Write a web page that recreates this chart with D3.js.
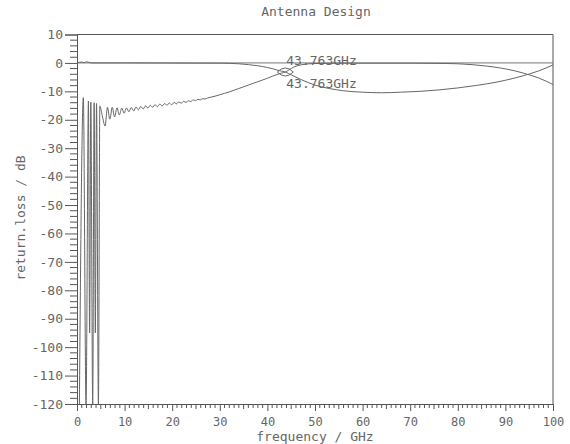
<!DOCTYPE html>
<html>
<head>
<meta charset="utf-8">
<script src="https://cdn.jsdelivr.net/npm/d3@7"></script>
<style>
  html, body { margin: 0; padding: 0; background: #fff; }
  svg text { font-family: "DejaVu Sans Mono", "Liberation Mono", monospace; fill: #666; }
</style>
</head>
<body>
<svg id="chart" width="570" height="444"></svg>
<script>
// Return loss of the antenna, port trace that resonates at low frequency (GHz, dB)
const freqA = [0.5, 1.33, 1.9, 2.4, 2.65, 2.9, 3.3, 3.6, 3.85, 4.1, 4.5, 4.8, 5.3, 5.9,
  6.4, 6.9, 7.4, 7.9, 8.4, 8.9, 9.4, 9.9, 10.4, 10.9, 11.4, 11.9, 12.4, 12.9, 13.4, 13.9, 14.4, 14.9,
  15.4, 15.9, 16.4, 16.9, 17.4, 17.9, 18.4, 18.9, 19.4, 19.9, 20.4, 20.9, 21.4, 21.9, 22.4, 22.9,
  23.4, 23.9, 24.4, 24.9, 25.4, 25.9, 26.4, 26.9, 27.4, 28, 29, 30, 31, 32, 33, 34, 35, 36, 37, 38,
  39, 40, 41, 42, 43, 43.763, 44.5, 45.5, 47, 50, 55, 60, 65, 70, 75, 80, 83, 86, 89, 92, 95, 97, 100];
const lossA = [-120, -12.2, -120, -13.4, -95, -13.8, -120, -14.0, -95, -14.3, -120, -15.2, -18.5, -22.2,
  -15.6, -19.8, -15.6, -19.0, -15.8, -18.3, -15.9, -17.7, -15.8, -17.2, -15.7, -16.9, -15.5, -16.5, -15.3, -16.2, -15.1, -15.9,
  -14.9, -15.6, -14.7, -15.4, -14.5, -15.1, -14.3, -14.9, -14.1, -14.7, -13.9, -14.4, -13.7, -14.2, -13.5, -13.9,
  -13.3, -13.6, -13.0, -13.3, -12.8, -13.0, -12.6, -12.7, -12.35, -12.1, -11.7, -11.2, -10.7, -10.2, -9.6, -9.0, -8.4, -7.8, -7.2, -6.6,
  -6.0, -5.4, -4.7, -4.1, -3.55, -3.2, -2.5, -1.5, -0.7, -0.2, -0.1, -0.1, -0.1, -0.1, -0.15, -0.3, -0.6, -1.1, -1.8, -2.8, -4.2, -5.3, -7.6];

// Transmission trace: flat near 0 dB, notch past the crossover
const freqB = [0, 1, 1.5, 2, 3, 4, 10, 20, 30, 34, 36, 38, 40, 41, 42, 43, 43.763, 45, 47, 50, 53, 56, 60,
  64, 68, 72, 76, 80, 84, 88, 92, 95, 97, 100];
const lossB = [0, 0.3, 0.1, 0.4, 0, 0, 0, -0.05, -0.1, -0.3, -0.6, -1.0, -1.6, -2.0, -2.5, -2.9, -3.2, -4.2, -5.8, -7.8, -9.0, -9.8, -10.3,
  -10.5, -10.3, -10.0, -9.5, -8.8, -7.9, -6.8, -5.3, -3.9, -2.8, -0.7];

// Marker readouts at the crossover frequency (both traces read the same level there)
const markerFreq = 43.763;
const markerLoss = -3.2;
const markerLabels = ["43.763GHz", "43.763GHz"];

const xTicks = [0, 10, 20, 30, 40, 50, 60, 70, 80, 90, 100];
const yTicks = [10, 0, -10, -20, -30, -40, -50, -60, -70, -80, -90, -100, -110, -120];

const svg = d3.select("#chart");
const padL = 77, padR = 553, padT = 34.5, padB = 404;
const ink = "#555";

const x = d3.scaleLinear().domain([0, 100]).range([padL, padR]);
const y = d3.scaleLinear().domain([-120, 10]).range([padB, padT]);

svg.append("defs").append("clipPath").attr("id", "plotClip")
  .append("rect").attr("x", padL).attr("y", padT).attr("width", padR - padL).attr("height", padB - padT);

// Title
svg.append("text").attr("x", 316).attr("y", 16).attr("text-anchor", "middle")
  .attr("font-size", 13).text("Antenna Design");

// Frame: top and right borders
svg.append("line").attr("x1", padL).attr("x2", padR).attr("y1", padT).attr("y2", padT)
  .attr("stroke", ink).attr("stroke-width", 1);
svg.append("line").attr("x1", padR).attr("x2", padR).attr("y1", padT).attr("y2", padB)
  .attr("stroke", ink).attr("stroke-width", 1);

// Zero dB reference
svg.append("line").attr("x1", padL).attr("x2", padR).attr("y1", y(0)).attr("y2", y(0))
  .attr("stroke", "#777").attr("stroke-width", 1);

// Y axis: majors every 10 dB, minors every 2 dB
const yAxis = d3.axisLeft(y).tickValues(yTicks).tickSize(12).tickPadding(2)
  .tickFormat(d => String(d));
const gy = svg.append("g").attr("transform", `translate(${padL},0)`).call(yAxis);
gy.selectAll("line").attr("stroke", ink);
gy.select(".domain").attr("stroke", ink);
gy.selectAll("text").attr("font-size", 13).attr("font-family", "DejaVu Sans Mono").attr("fill", "#666");
const yMinor = d3.range(-120, 11, 2).filter(v => v % 10 !== 0);
svg.append("g").selectAll("line").data(yMinor).join("line")
  .attr("x1", padL - 7).attr("x2", padL).attr("y1", d => y(d)).attr("y2", d => y(d))
  .attr("stroke", ink);

// X axis: majors every 10 GHz, minors every 1 GHz
const xAxis = d3.axisBottom(x).tickValues(xTicks).tickSize(7).tickPadding(0);
const gx = svg.append("g").attr("transform", `translate(0,${padB})`).call(xAxis);
gx.selectAll("line").attr("stroke", ink);
gx.select(".domain").attr("stroke", ink);
gx.selectAll("text").attr("font-size", 12).attr("font-family", "DejaVu Sans Mono").attr("fill", "#666")
  .attr("dy", null).attr("y", 22);
const xMinor = d3.range(0, 101, 1).filter(v => v % 10 !== 0);
svg.append("g").selectAll("line").data(xMinor).join("line")
  .attr("x1", d => x(d)).attr("x2", d => x(d)).attr("y1", padB)
  .attr("y2", d => padB + (d % 5 === 0 ? 5 : 4))
  .attr("stroke", ink);

// Axis titles
svg.append("text").attr("x", 315).attr("y", 441).attr("text-anchor", "middle")
  .attr("font-size", 13).text("frequency / GHz");
svg.append("text").attr("transform", "translate(25,218) rotate(-90)").attr("text-anchor", "middle")
  .attr("font-size", 13).text("return.loss / dB");

// Traces
const line = d3.line().x(d => x(d[0])).y(d => y(d[1])).curve(d3.curveMonotoneX);
const plot = svg.append("g").attr("clip-path", "url(#plotClip)");
plot.append("path").datum(d3.zip(freqA, lossA)).attr("d", line)
  .attr("fill", "none").attr("stroke", "#666").attr("stroke-width", 1);
plot.append("path").datum(d3.zip(freqB, lossB)).attr("d", line)
  .attr("fill", "none").attr("stroke", "#666").attr("stroke-width", 1);

// Marker symbols: an upper and a lower arc around the crossover point
const mx = x(markerFreq), my = y(markerLoss);
const lens = d3.path();
lens.moveTo(mx - 8, my);
lens.quadraticCurveTo(mx, my - 8, mx + 8, my);
lens.moveTo(mx - 8, my);
lens.quadraticCurveTo(mx, my + 8, mx + 8, my);
plot.append("path").attr("d", lens.toString()).attr("fill", "none").attr("stroke", "#666").attr("stroke-width", 1);

// Marker labels
svg.append("text").attr("x", mx + 1).attr("y", 65).attr("font-size", 13).text(markerLabels[0]);
svg.append("text").attr("x", mx + 1).attr("y", 88).attr("font-size", 13).text(markerLabels[1]);
</script>
</body>
</html>
